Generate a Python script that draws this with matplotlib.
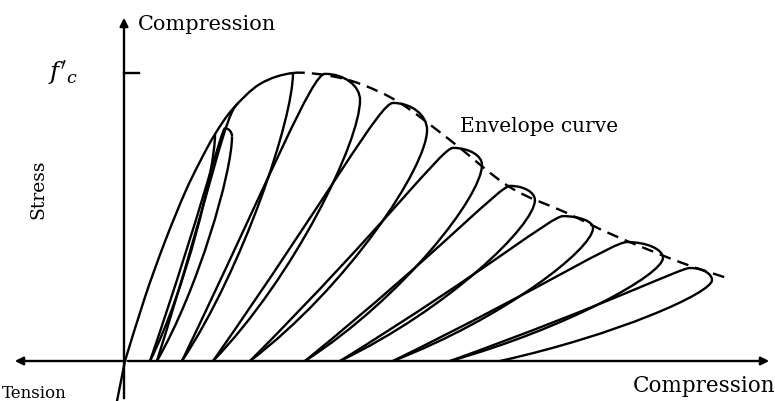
import numpy as np
import matplotlib.pyplot as plt
from matplotlib.path import Path
from matplotlib.patches import PathPatch

# envelope curve: strain / strain at peak, stress / f'c
env_strain = [0, 0.119, 0.238, 0.357, 0.446, 0.536, 0.643, 0.804, 1.0,
              1.22, 1.41, 1.637, 1.935, 2.29, 2.63, 2.905, 3.30, 3.60]
env_stress = [0, 0.222, 0.415, 0.585, 0.692, 0.788, 0.876, 0.962, 1.0,
              0.99, 0.96, 0.896, 0.767, 0.604, 0.514, 0.4375, 0.344, 0.285]
peak_idx = 8

# unloading points, and residual strain reached after each unloading
unload_x = [0.536, 0.637, 1.0, 1.399, 1.798, 2.125, 2.44, 2.786, 3.202, 3.494]
unload_y = [0.788, 0.78, 1.0, 0.906, 0.802, 0.681, 0.559, 0.462, 0.358, 0.281]
residual = [0.149, 0.19, 0.339, 0.524, 0.744, 1.071, 1.28, 1.595, 1.935, 2.232]

# top of each reloading loop (second reload runs back onto the envelope)
cap_top_x = [0.595, None, 1.19, 1.595, 1.952, 2.292, 2.607, 2.988, 3.363]
cap_top_y = [0.808, None, 0.997, 0.896, 0.74, 0.608, 0.503, 0.413, 0.323]
rejoin = (0.673, 0.895)

px_x, px_y = 168.0, 288.0
lw = 1.7


def catmull_segments(xs, ys):
    pts = np.column_stack([xs, ys])
    segs = []
    n = len(pts)
    for i in range(n - 1):
        p0 = pts[max(i - 1, 0)]
        p1, p2 = pts[i], pts[i + 1]
        p3 = pts[min(i + 2, n - 1)]
        segs.append((p1, p1 + (p2 - p0) / 6, p2 - (p3 - p1) / 6, p2))
    return segs


def segs_to_path(segs):
    verts = [segs[0][0]]
    codes = [Path.MOVETO]
    for s in segs:
        verts += [s[1], s[2], s[3]]
        codes += [Path.CURVE4] * 3
    return Path(verts, codes)


def unload_curve(u, foot):
    u = np.array(u)
    f = np.array([foot, 0.0])
    q = np.array([u[0], 0.8 * u[1]])
    p2 = f + np.array([0.55 * (q[0] - f[0]), 0.4 * q[1]])
    return [u, u + 0.8 * (q - u), p2, f]


def reload_curve(foot, top, u_prev_x, u_next):
    f = np.array([foot, 0.0])
    t = np.array(top)
    un = np.array(u_next)
    cw = 0.35 * (un[0] - u_prev_x)
    q = np.array([t[0] - cw, t[1]])
    q2 = np.array([un[0], t[1]])
    p1 = f + np.array([0.75 * (q[0] - f[0]), 0.65 * q[1]])
    return [f, p1, t + 0.55 * (q - t), t,
            t + 0.55 * (q2 - t), un + 0.55 * (q2 - un), un]


fig = plt.figure(figsize=(7.75, 4.01), dpi=100)
ax = fig.add_axes([0, 0, 1, 1])
ax.set_xlim(-125 / px_x, 650 / px_x)
ax.set_ylim(-40 / px_y, 361 / px_y)
ax.axis('off')

# axes with arrows
arrow = dict(arrowstyle='-|>', color='black', lw=lw, mutation_scale=12)
ax.annotate('', xy=(-113 / px_x, 0), xytext=(0, 0), arrowprops=arrow)
ax.annotate('', xy=(647 / px_x, 0), xytext=(0, 0), arrowprops=arrow)
ax.annotate('', xy=(-1 / px_x, 346 / px_y), xytext=(-1 / px_x, -40 / px_y),
            arrowprops=arrow)
ax.plot([-1 / px_x, 14 / px_x], [1.0, 1.0], color='black', lw=lw)
ax.plot([0, -8 / px_x], [0, -40 / px_y], color='black', lw=lw)

# envelope: solid up to the peak, dashed after
segs = catmull_segments(env_strain, env_stress)
ax.add_patch(PathPatch(segs_to_path(segs[:peak_idx]), fill=False, lw=lw, ec='black'))
ax.add_patch(PathPatch(segs_to_path(segs[peak_idx:]), fill=False, lw=lw, ec='black',
                       linestyle=(0, (5, 3))))

# unloading branches
for k in range(len(unload_x)):
    c = unload_curve((unload_x[k], unload_y[k]), residual[k])
    ax.add_patch(PathPatch(Path(c, [Path.MOVETO] + [Path.CURVE4] * 3),
                           fill=False, lw=lw, ec='black'))

# reloading branches
for k in range(len(cap_top_x)):
    if cap_top_x[k] is None:
        f = np.array([residual[k], 0.0])
        j = np.array(rejoin)
        c = [f, f + 0.7 * (j - f), j - np.array([0.08, 0.036]), j]
        ax.add_patch(PathPatch(Path(c, [Path.MOVETO] + [Path.CURVE4] * 3),
                               fill=False, lw=lw, ec='black'))
        continue
    c = reload_curve(residual[k], (cap_top_x[k], cap_top_y[k]), unload_x[k],
                     (unload_x[k + 1], unload_y[k + 1]))
    ax.add_patch(PathPatch(Path(c, [Path.MOVETO] + [Path.CURVE4] * 6),
                           fill=False, lw=lw, ec='black'))

serif = 'DejaVu Serif'
ax.text(13 / px_x, 337 / px_y, 'Compression', fontsize=15, family=serif,
        va='center', ha='left')
ax.text(-62 / px_x, 1.0, r"$f'_{c}$", fontsize=18, ha='center', va='center',
        math_fontfamily='dejavuserif')
ax.text(-87 / px_x, 172 / px_y, 'Stress', fontsize=13.5, family=serif,
        rotation=90, ha='center', va='center')
ax.text(335 / px_x, 234 / px_y, 'Envelope curve', fontsize=14.5, family=serif,
        ha='left', va='center')
ax.text(-123 / px_x, -32 / px_y, 'Tension', fontsize=12, family=serif,
        ha='left', va='center')
ax.text(650 / px_x, -25 / px_y, 'Compression', fontsize=15.5, family=serif,
        ha='right', va='center')

fig.savefig('out.png', dpi=100)
